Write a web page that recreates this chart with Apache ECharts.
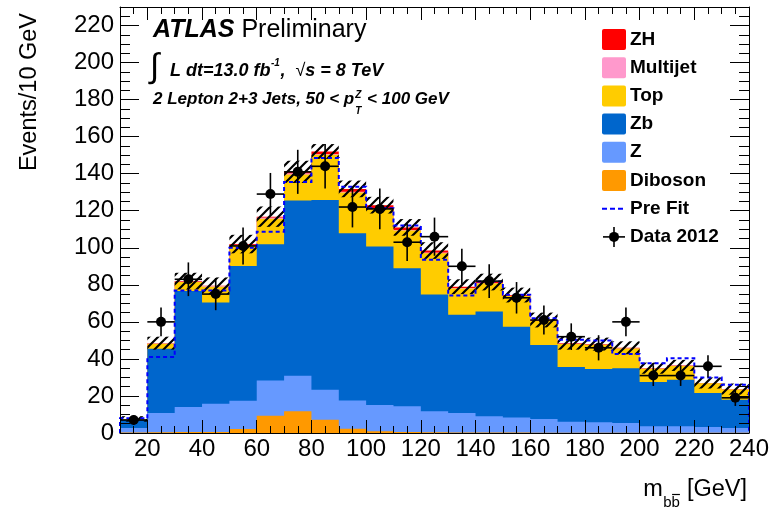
<!DOCTYPE html>
<html>
<head>
<meta charset="utf-8">
<script src="https://cdn.jsdelivr.net/npm/echarts@6/dist/echarts.min.js"></script>
<style>
  html, body { margin: 0; padding: 0; background: #fff; }
  #chart { width: 781px; height: 509px; }
</style>
</head>
<body>
<div id="chart"></div>
<script>
// m_bb distribution, 10 GeV bins from 10 to 240 GeV
const binEdges = [10, 20, 30, 40, 50, 60, 70, 80, 90, 100, 110, 120, 130, 140, 150, 160, 170, 180, 190, 200, 210, 220, 230, 240];

// Stacked backgrounds + signal (events per bin), bottom to top
const diboson  = [0.3, 0.4, 0.5, 0.5, 2.2, 9.3, 11.7, 7.2, 2.3, 0.9, 0.6, 0.4, 0.3, 0.3, 0.3, 0.2, 0.2, 0.2, 0.2, 0.1, 0.1, 0.1, 0.1];
const zLight   = [2.4, 10.4, 13.5, 15.3, 15.2, 19.1, 19.2, 16.2, 15.3, 14.2, 13.8, 11.3, 10.5, 8.7, 8.1, 7.3, 5.9, 5.6, 5.2, 3.5, 3.5, 3.1, 2.6];
const zb       = [4.5, 34.7, 62.6, 54.7, 72.8, 73.5, 94.6, 102.4, 90.3, 85.6, 74.6, 63.1, 53.0, 56.6, 48.9, 40.0, 29.5, 28.7, 29.5, 23.9, 25.2, 18.4, 15.3];
const topQuark = [0.3, 2.7, 4.9, 8.5, 11.1, 13.8, 14.1, 24.4, 21.9, 20.3, 20.3, 22.3, 14.2, 15.2, 16.6, 13.0, 12.4, 13.1, 10.7, 7.2, 7.4, 5.2, 5.5];
const multijet = [0.1, 0.2, 0.3, 0.3, 0.4, 0.6, 0.6, 0.5, 0.4, 0.4, 0.3, 0.3, 0.3, 0.2, 0.2, 0.2, 0.2, 0.2, 0.2, 0.1, 0.1, 0.1, 0.1];
const zh       = [0.0, 0.1, 0.2, 0.2, 0.3, 0.5, 0.8, 1.3, 1.6, 1.6, 1.4, 1.1, 0.7, 0.5, 0.4, 0.3, 0.3, 0.2, 0.2, 0.2, 0.2, 0.1, 0.1];

// Total background uncertainty (half width of the hatched band)
const bkgUnc   = [1.5, 3.5, 4.5, 4.5, 5.0, 5.5, 6.0, 4.0, 4.5, 4.5, 4.5, 4.5, 4.0, 4.5, 4.0, 4.0, 3.5, 3.5, 3.5, 3.0, 3.0, 3.0, 3.0];

// Pre-fit total prediction
const preFit   = [7.9, 41.0, 77.0, 77.0, 100.0, 108.7, 135.5, 148.5, 133.0, 121.3, 112.0, 93.5, 74.2, 81.8, 74.6, 62.0, 50.3, 50.0, 42.6, 37.7, 40.4, 30.0, 26.0];

// Data 2012 with statistical errors
const dataCounts = [7, 60, 83, 75, 101, 129, 141, 144, 122, 121, 103, 106, 90, 82, 73, 61, 52, 46, 60, 31, 31, 36, 19];
const dataErr    = [2.6, 7.7, 9.1, 8.7, 10.0, 11.4, 11.9, 12.0, 11.0, 11.0, 10.1, 10.3, 9.5, 9.1, 8.5, 7.8, 7.2, 6.8, 7.7, 5.6, 5.6, 6.0, 4.4];

// Axis tick labels
const xTickValues = [20, 40, 60, 80, 100, 120, 140, 160, 180, 200, 220, 240];
const yTickValues = [0, 20, 40, 60, 80, 100, 120, 140, 160, 180, 200, 220];

const FONT = "'Liberation Sans', Arial, Helvetica, sans-serif";
const COLORS = {
  ZH: '#ff0000', Multijet: '#ff99cc', Top: '#ffcc00',
  Zb: '#0066cc', Z: '#6699ff', Diboson: '#ff9900'
};

// cumulative stack tops
const components = [
  { name: 'Diboson', values: diboson },
  { name: 'Z', values: zLight },
  { name: 'Zb', values: zb },
  { name: 'Top', values: topQuark },
  { name: 'Multijet', values: multijet },
  { name: 'ZH', values: zh }
];
let running = binEdges.slice(1).map(() => 0);
components.forEach(c => {
  running = running.map((v, i) => v + c.values[i]);
  c.cum = running.slice();
});
const stackTotal = components[components.length - 1].cum;

function stepPoints(api, tops) {
  const pts = [api.coord([binEdges[0], 0])];
  for (let i = 0; i < tops.length; i++) {
    pts.push(api.coord([binEdges[i], tops[i]]));
    pts.push(api.coord([binEdges[i + 1], tops[i]]));
  }
  pts.push(api.coord([binEdges[binEdges.length - 1], 0]));
  return pts;
}

// hatch pattern for the uncertainty band
const hatch = document.createElement('canvas');
hatch.width = 9; hatch.height = 9;
(function () {
  const c = hatch.getContext('2d');
  c.strokeStyle = '#000';
  c.lineWidth = 2.2;
  c.beginPath();
  c.moveTo(-1, 10); c.lineTo(10, -1);
  c.moveTo(-3, 3); c.lineTo(3, -3);
  c.moveTo(6, 12); c.lineTo(12, 6);
  c.stroke();
})();

const series = [];
// draw from the tallest cumulative down so lower components sit on top
components.slice().reverse().forEach(c => {
  series.push({
    type: 'custom', name: c.name, silent: true, xAxisIndex: 0, yAxisIndex: 0,
    data: [0],
    renderItem: (params, api) => ({
      type: 'polygon',
      shape: { points: stepPoints(api, c.cum) },
      style: { fill: COLORS[c.name], stroke: null }
    })
  });
});

// uncertainty band
series.push({
  type: 'custom', name: 'Uncertainty', silent: true,
  data: stackTotal.map((t, i) => [binEdges[i], binEdges[i + 1], t - bkgUnc[i], t + bkgUnc[i]]),
  renderItem: (params, api) => {
    const a = api.coord([api.value(0), api.value(3)]);
    const b = api.coord([api.value(1), api.value(2)]);
    return {
      type: 'rect',
      shape: { x: a[0], y: a[1], width: b[0] - a[0], height: b[1] - a[1] },
      style: { fill: { image: hatch, repeat: 'repeat' }, stroke: null }
    };
  }
});

// pre-fit dashed step line
series.push({
  type: 'custom', name: 'Pre Fit', silent: true,
  data: [0],
  renderItem: (params, api) => ({
    type: 'polyline',
    shape: { points: stepPoints(api, preFit) },
    style: { fill: null, stroke: '#0000ff', lineWidth: 2, lineDash: [4, 3] }
  })
});

// data points with error bars
series.push({
  type: 'custom', name: 'Data 2012', silent: true,
  data: dataCounts.map((v, i) => [binEdges[i], binEdges[i + 1], v, dataErr[i]]),
  renderItem: (params, api) => {
    const x0 = api.value(0), x1 = api.value(1), y = api.value(2), e = api.value(3);
    const l = api.coord([x0, y]), r = api.coord([x1, y]);
    const c = api.coord([(x0 + x1) / 2, y]);
    const lo = api.coord([(x0 + x1) / 2, Math.max(0, y - e)]);
    const hi = api.coord([(x0 + x1) / 2, y + e]);
    const ls = { stroke: '#000', lineWidth: 1.6 };
    return {
      type: 'group',
      children: [
        { type: 'line', shape: { x1: l[0], y1: l[1], x2: r[0], y2: r[1] }, style: ls },
        { type: 'line', shape: { x1: lo[0], y1: lo[1], x2: hi[0], y2: hi[1] }, style: ls },
        { type: 'circle', shape: { cx: c[0], cy: c[1], r: 5 }, style: { fill: '#000' } }
      ]
    };
  }
});

// ---- text helpers ----
const mctx = document.createElement('canvas').getContext('2d');
function fontOf(size, weight, style) { return `${style || 'normal'} ${weight || 'normal'} ${size}px ${FONT}`; }
function tw(text, size, weight, style) { mctx.font = fontOf(size, weight, style); return mctx.measureText(text).width; }
function txt(text, x, baseline, size, weight, style, extra) {
  return Object.assign({
    type: 'text', x: x, y: baseline - size * 0.35, silent: true, z: 100,
    style: {
      text: text, fill: '#000', fontFamily: FONT, fontSize: size,
      fontWeight: weight || 'normal', fontStyle: style || 'normal',
      align: 'left', verticalAlign: 'middle'
    }
  }, extra || {});
}

const graphics = [];

// ATLAS Preliminary
graphics.push(txt('ATLAS', 153, 38.5, 25, 'bold', 'italic'));
graphics.push(txt('Preliminary', 153 + tw('ATLAS ', 25, 'bold', 'italic'), 38.5, 25));

// luminosity line
(function () {
  const base = 77, s = 18;
  graphics.push(txt('\u222B', 150, 80, 34));
  let x = 170;
  graphics.push(txt('L dt=13.0 fb', x, base, s, 'bold', 'italic'));
  x += tw('L dt=13.0 fb', s, 'bold', 'italic');
  graphics.push(txt('-1', x + 0.5, base - 10, 10, 'bold', 'italic'));
  x += tw('-1', 10, 'bold', 'italic') + 1;
  graphics.push(txt(',', x, base, s, 'bold', 'italic'));
  x += tw(',  ', s, 'bold', 'italic');
  graphics.push(txt('\u221A', x, base, s));
  x += tw('\u221A', s);
  graphics.push(txt('s = 8 TeV', x, base, s, 'bold', 'italic'));
})();

// selection line
(function () {
  const base = 105, s = 17;
  let x = 153;
  const t1 = '2 Lepton 2+3 Jets, 50 < p';
  graphics.push(txt(t1, x, base, s, 'bold', 'italic'));
  x += tw(t1, s, 'bold', 'italic');
  graphics.push(txt('Z', x + 1, base - 6.5, 10, 'bold', 'italic'));
  graphics.push(txt('T', x + 1, base + 10, 10, 'bold', 'italic'));
  x += Math.max(tw('Z', 10, 'bold', 'italic'), tw('T', 10, 'bold', 'italic')) + 2;
  graphics.push(txt(' < 100 GeV', x, base, s, 'bold', 'italic'));
})();

// y-axis title
graphics.push({
  type: 'text', x: 30, y: 13, rotation: Math.PI / 2, silent: true, z: 100,
  style: { text: 'Events/10 GeV', fill: '#000', fontFamily: FONT, fontSize: 23.5, align: 'right', verticalAlign: 'middle' }
});

// x-axis title: m_{b bbar} [GeV]
(function () {
  const base = 498, s = 23.5, ss = 15, subBase = 508;
  const gevW = tw('[GeV]', s);
  const gevX = 747 - gevW;
  const subW = tw('bb', ss);
  const subX = gevX - 7 - subW;
  const mX = subX - tw('m', s) - 0.5;
  graphics.push(txt('m', mX, base, s));
  graphics.push(txt('bb', subX, subBase, ss));
  const bW = tw('b', ss);
  graphics.push({ type: 'line', silent: true, z: 100, shape: { x1: subX + bW + 0.5, y1: 494.5, x2: subX + subW, y2: 494.5 }, style: { stroke: '#000', lineWidth: 1.2 } });
  graphics.push(txt('[GeV]', gevX, base, s));
})();

// legend
(function () {
  const names = ['ZH', 'Multijet', 'Top', 'Zb', 'Z', 'Diboson'];
  const x0 = 602, step = 28.2, c0 = 39.5;
  names.forEach((n, i) => {
    const cy = c0 + step * i;
    graphics.push({ type: 'rect', silent: true, z: 100, shape: { x: x0, y: cy - 10.5, width: 24, height: 21, r: 2 }, style: { fill: COLORS[n] } });
    graphics.push(txt(n, 630, cy + 6.5, 19, 'bold'));
  });
  let cy = c0 + step * 6;
  graphics.push({ type: 'line', silent: true, z: 100, shape: { x1: x0, y1: cy, x2: x0 + 23, y2: cy }, style: { stroke: '#0000ff', lineWidth: 2, lineDash: [5, 3] } });
  graphics.push(txt('Pre Fit', 630, cy + 6.5, 19, 'bold'));
  cy = c0 + step * 7;
  graphics.push({ type: 'line', silent: true, z: 100, shape: { x1: x0 + 1, y1: cy, x2: x0 + 23, y2: cy }, style: { stroke: '#000', lineWidth: 1.6 } });
  graphics.push({ type: 'line', silent: true, z: 100, shape: { x1: x0 + 12, y1: cy - 10, x2: x0 + 12, y2: cy + 10 }, style: { stroke: '#000', lineWidth: 1.6 } });
  graphics.push({ type: 'circle', silent: true, z: 100, shape: { cx: x0 + 12, cy: cy, r: 5 }, style: { fill: '#000' } });
  graphics.push(txt('Data 2012', 630, cy + 6.5, 19, 'bold'));
})();

// ---- axes: frame with inward major/minor ticks on all four sides ----
const lineStyle = { color: '#000', width: 1 };
function xAxisDef(position, major, labels) {
  const base = {
    type: 'value', min: 10, max: 240, position: position, z: 10,
    splitLine: { show: false },
    axisLine: { show: major, onZero: false, lineStyle: lineStyle }
  };
  if (major) {
    base.axisTick = { show: true, inside: true, length: 13, lineStyle: lineStyle, customValues: xTickValues };
    base.axisLabel = labels
      ? { show: true, customValues: xTickValues, fontFamily: FONT, fontSize: 24, color: '#000', margin: 4 }
      : { show: false };
  } else {
    base.interval = 5;
    base.axisTick = { show: true, inside: true, length: 7, lineStyle: lineStyle };
    base.axisLabel = { show: false };
  }
  return base;
}
function yAxisDef(position, major, labels) {
  const base = {
    type: 'value', min: 0, max: 230, position: position, z: 10,
    splitLine: { show: false },
    axisLine: { show: major, onZero: false, lineStyle: lineStyle }
  };
  if (major) {
    base.axisTick = { show: true, inside: true, length: 19, lineStyle: lineStyle, customValues: yTickValues };
    base.axisLabel = labels
      ? { show: true, customValues: yTickValues, fontFamily: FONT, fontSize: 24, color: '#000', margin: 6 }
      : { show: false };
  } else {
    base.interval = 5;
    base.axisTick = { show: true, inside: true, length: 10, lineStyle: lineStyle };
    base.axisLabel = { show: false };
  }
  return base;
}

const chart = echarts.init(document.getElementById('chart'), null, { renderer: 'canvas', width: 781, height: 509 });
chart.setOption({
  animation: false,
  backgroundColor: '#fff',
  grid: { left: 120, right: 32, top: 7, bottom: 76 },
  xAxis: [xAxisDef('bottom', true, true), xAxisDef('bottom', false), xAxisDef('top', true, false), xAxisDef('top', false)],
  yAxis: [yAxisDef('left', true, true), yAxisDef('left', false), yAxisDef('right', true, false), yAxisDef('right', false)],
  series: series,
  graphic: graphics
});
</script>
</body>
</html>
